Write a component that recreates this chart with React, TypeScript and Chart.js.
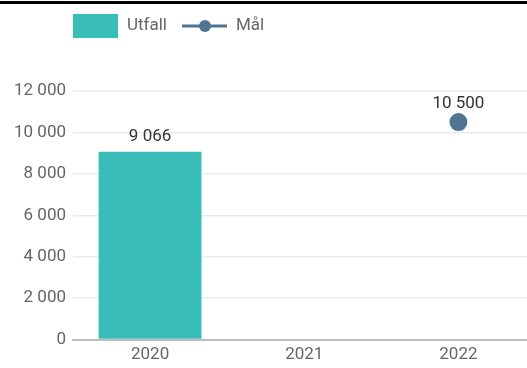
import React, { useEffect, useRef } from "react";
import { Chart, registerables } from "chart.js";

Chart.register(...registerables);

const categories = ["2020", "2021", "2022"];
const utfallValues: (number | null)[] = [9066, null, null];
const malValues: (number | null)[] = [null, null, 10500];
const yTicks = [0, 2000, 4000, 6000, 8000, 10000, 12000];
const legendLabels = ["Utfall", "Mål"];

const TEAL = "#38bdb9";
const SLATE = "#4f7593";
const FONT = "Roboto, 'Noto Sans', sans-serif";

const fmt = (v: number) => String(Math.round(v)).replace(/\B(?=(\d{3})+(?!\d))/g, " ");

const valueLabels = {
  id: "valueLabels",
  afterDatasetsDraw(chart: any) {
    const ctx = chart.ctx;
    ctx.save();
    ctx.font = `17px ${FONT}`;
    ctx.fillStyle = "#333333";
    ctx.textAlign = "center";
    ctx.textBaseline = "middle";
    chart.data.datasets.forEach((ds: any, di: number) => {
      const meta = chart.getDatasetMeta(di);
      meta.data.forEach((el: any, i: number) => {
        const v = ds.data[i];
        if (v === null || v === undefined) return;
        const off = ds.type === "line" ? 18 : 15;
        ctx.fillText(fmt(v), el.x, el.y - off);
      });
    });
    ctx.restore();
  },
};

const customLegend = {
  id: "customLegend",
  afterDraw(chart: any) {
    const ctx = chart.ctx;
    const left = chart.chartArea.left;
    const cy = 26;
    ctx.save();
    ctx.font = `17px ${FONT}`;
    ctx.textBaseline = "middle";
    ctx.textAlign = "left";
    ctx.fillStyle = TEAL;
    ctx.fillRect(left, cy - 12, 45, 24);
    ctx.fillStyle = "#666666";
    let x = left + 54;
    ctx.fillText(legendLabels[0], x, cy);
    x += ctx.measureText(legendLabels[0]).width + 15;
    ctx.strokeStyle = SLATE;
    ctx.lineWidth = 3;
    ctx.beginPath();
    ctx.moveTo(x, cy);
    ctx.lineTo(x + 45, cy);
    ctx.stroke();
    ctx.fillStyle = SLATE;
    ctx.beginPath();
    ctx.arc(x + 23, cy, 6, 0, Math.PI * 2);
    ctx.fill();
    ctx.fillStyle = "#666666";
    ctx.fillText(legendLabels[1], x + 54, cy);
    ctx.restore();
  },
};

export default function App() {
  const ref = useRef<HTMLCanvasElement | null>(null);
  useEffect(() => {
    if (!ref.current) return;
    const chart = new Chart(ref.current, {
      type: "bar",
      data: {
        labels: categories,
        datasets: [
          {
            type: "bar",
            label: legendLabels[0],
            data: utfallValues,
            backgroundColor: TEAL,
            categoryPercentage: 0.8,
            barPercentage: 0.834,
            order: 2,
          } as any,
          {
            type: "line",
            label: legendLabels[1],
            data: malValues,
            borderColor: SLATE,
            backgroundColor: SLATE,
            pointBackgroundColor: SLATE,
            pointBorderColor: SLATE,
            pointRadius: 7.5,
            borderWidth: 3,
            order: 1,
          } as any,
        ],
      },
      options: {
        animation: false,
        responsive: false,
        maintainAspectRatio: false,
        layout: { padding: { left: 7, right: 0, top: 91, bottom: 2 } },
        plugins: {
          legend: { display: false },
          tooltip: { enabled: false },
        },
        scales: {
          x: {
            grid: { display: false, drawTicks: false },
            border: { display: true, color: "#bdbdbd", width: 2 },
            ticks: { color: "#666666", font: { family: FONT, size: 17 }, padding: 5 },
          },
          y: {
            min: 0,
            max: 12000,
            afterBuildTicks: (axis: any) => {
              axis.ticks = yTicks.map((v) => ({ value: v }));
            },
            grid: { color: "#e8ecef", drawTicks: false, lineWidth: 1.5 },
            border: { display: false },
            ticks: {
              color: "#666666",
              font: { family: FONT, size: 17 },
              padding: 7,
              callback: (v: any) => fmt(Number(v)),
            },
          },
        },
      },
      plugins: [valueLabels, customLegend],
    });
    return () => chart.destroy();
  }, []);
  return (
    <div style={{ position: "absolute", left: 0, top: 0, width: 527, height: 368, overflow: "hidden", background: "#fff" }}>
      <div style={{ position: "relative", width: 546, height: 372 }}>
        <canvas ref={ref} width={546} height={372} style={{ display: "block", width: 546, height: 372 }} />
      </div>
      <div style={{ position: "absolute", left: 0, top: 1, width: 527, height: 3, background: "#000" }} />
    </div>
  );
}
